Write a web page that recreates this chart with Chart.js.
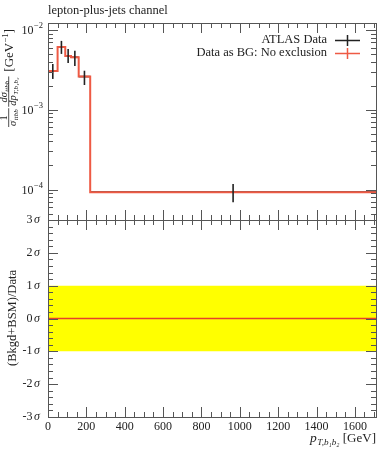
<!DOCTYPE html>
<html>
<head>
<meta charset="utf-8">
<script src="https://cdn.jsdelivr.net/npm/chart.js@4.4.0/dist/chart.umd.min.js"></script>
<style>
  body { margin: 0; background: #fff; }
  #wrap { position: relative; width: 389px; height: 450px; }
  canvas { position: absolute; left: 0; top: 0; }
</style>
</head>
<body>
<div id="wrap">
  <canvas id="mainChart" width="389" height="450"></canvas>
  <canvas id="ratioChart" width="389" height="450"></canvas>
</div>
<script>
// bins of p_T,b1b2 [GeV]
const binEdges = [0, 50, 90, 120, 160, 220, 1710];
// ATLAS data, normalised cross section [GeV^-1]
const dataValues = [3.06e-3, 6.12e-3, 4.72e-3, 4.54e-3, 2.60e-3, 9.27e-5];
const dataErrLow = [2.43e-3, 5.00e-3, 3.86e-3, 3.53e-3, 2.04e-3, 6.95e-5];
const dataErrHigh = [3.74e-3, 7.28e-3, 5.78e-3, 5.46e-3, 3.08e-3, 1.17e-4];
// "Data as BG: No exclusion" prediction
const bgValues = [3.06e-3, 6.12e-3, 4.72e-3, 4.54e-3, 2.60e-3, 9.27e-5];
// ratio panel, in sigma
const ratioValues = [0, 0, 0, 0, 0, 0];
const bandLow = [-1, -1, -1, -1, -1, -1];
const bandHigh = [1, 1, 1, 1, 1, 1];
// tick labels
const xTickValues = [0, 200, 400, 600, 800, 1000, 1200, 1400, 1600];
const logTickPowers = [-2, -3, -4];
const ratioTickValues = [3, 2, 1, 0, -1, -2, -3];

const redColor = '#ee5a44';
const frameColor = '#555';
const serif = '"Liberation Serif", "DejaVu Serif", serif';

function stepPoints(values) {
  const pts = values.map((v, i) => ({ x: binEdges[i], y: v }));
  pts.push({ x: binEdges[binEdges.length - 1], y: values[values.length - 1] });
  return pts;
}

// error bars as two-point line datasets
const vertBars = [];
const horizBars = [];
for (let i = 0; i < dataValues.length; i++) {
  const mid = (binEdges[i] + binEdges[i + 1]) / 2;
  vertBars.push({
    data: [{ x: mid, y: dataErrLow[i] }, { x: mid, y: dataErrHigh[i] }],
    borderColor: '#222', borderWidth: 1.6, pointRadius: 0, order: 0
  });
  horizBars.push({
    data: [{ x: binEdges[i], y: dataValues[i] }, { x: binEdges[i + 1], y: dataValues[i] }],
    borderColor: '#222', borderWidth: 1.6, pointRadius: 0, order: 2
  });
}

// inward ticks along x
function xTicks(ctx, scale, area, y, dir) {
  for (let v = 0; v <= scale.max; v += 50) {
    const px = Math.round(scale.getPixelForValue(v)) + 0.5;
    if (px < area.left || px > area.right) continue;
    const len = (v % 200 === 0) ? 10 : 5;
    ctx.beginPath();
    ctx.moveTo(px, y);
    ctx.lineTo(px, y + dir * len);
    ctx.stroke();
  }
}

function yTick(ctx, area, py, len) {
  py = Math.round(py) + 0.5;
  ctx.beginPath();
  ctx.moveTo(area.left, py); ctx.lineTo(area.left + len, py);
  ctx.moveTo(area.right, py); ctx.lineTo(area.right - len, py);
  ctx.stroke();
}

function frame(ctx, area) {
  ctx.strokeStyle = frameColor;
  ctx.lineWidth = 1;
  ctx.strokeRect(Math.round(area.left) + 0.5, Math.round(area.top) + 0.5,
    Math.round(area.right - area.left), Math.round(area.bottom - area.top));
}

// text with a subscript, returns width
function subText(ctx, main, sub, x, y, size, italic) {
  ctx.font = (italic ? 'italic ' : '') + size + 'px ' + serif;
  ctx.fillText(main, x, y);
  const mw = ctx.measureText(main).width;
  ctx.font = 'italic ' + (size * 0.68) + 'px ' + serif;
  ctx.fillText(sub, x + mw + 0.5, y + size * 0.22);
  return mw + 0.5 + ctx.measureText(sub).width;
}
function subWidth(ctx, main, sub, size, italic) {
  ctx.font = (italic ? 'italic ' : '') + size + 'px ' + serif;
  const mw = ctx.measureText(main).width;
  ctx.font = 'italic ' + (size * 0.68) + 'px ' + serif;
  return mw + 0.5 + ctx.measureText(sub).width;
}

const mainDecor = {
  id: 'mainDecor',
  afterDatasetsDraw(chart) {
    const ctx = chart.ctx, area = chart.chartArea;
    const xs = chart.scales.x, ys = chart.scales.y;
    ctx.save();
    frame(ctx, area);
    xTicks(ctx, xs, area, area.top, 1);
    xTicks(ctx, xs, area, area.bottom, -1);
    for (let d = -5; d <= -1; d++) {
      for (let m = 1; m <= 9; m++) {
        const v = m * Math.pow(10, d);
        if (v < ys.min || v > ys.max) continue;
        yTick(ctx, area, ys.getPixelForValue(v), m === 1 ? 10 : 5);
      }
    }
    // y tick labels 10^n
    ctx.fillStyle = '#222';
    ctx.textBaseline = 'middle';
    logTickPowers.forEach(p => {
      const py = ys.getPixelForValue(Math.pow(10, p));
      ctx.font = '8.5px ' + serif;
      const sup = '\u2212' + (-p);
      const supW = ctx.measureText(sup).width;
      ctx.textAlign = 'left';
      ctx.fillText(sup, 43 - supW, py - 4);
      ctx.font = '12px ' + serif;
      ctx.textAlign = 'right';
      ctx.fillText('10', 43 - supW - 0.5, py + 1);
    });
    // title
    ctx.textAlign = 'left';
    ctx.textBaseline = 'alphabetic';
    ctx.font = '12.5px ' + serif;
    ctx.fillText('lepton-plus-jets channel', 48, 14);
    // legend
    ctx.font = '12.5px ' + serif;
    ctx.textAlign = 'right';
    ctx.textBaseline = 'middle';
    ctx.fillText('ATLAS Data', 327, 40);
    ctx.fillText('Data as BG: No exclusion', 327, 53);
    ctx.lineWidth = 1.5;
    ctx.strokeStyle = '#222';
    ctx.beginPath();
    ctx.moveTo(335, 40.5); ctx.lineTo(360, 40.5);
    ctx.moveTo(347.5, 35); ctx.lineTo(347.5, 46);
    ctx.stroke();
    ctx.strokeStyle = redColor;
    ctx.beginPath();
    ctx.moveTo(335, 53.5); ctx.lineTo(360, 53.5);
    ctx.moveTo(347.5, 48); ctx.lineTo(347.5, 59);
    ctx.stroke();
    // y axis title, rotated
    ctx.translate(13, 127);
    ctx.rotate(-Math.PI / 2);
    ctx.textAlign = 'left';
    ctx.textBaseline = 'alphabetic';
    let x = 0;
    const fs = 10.5;
    function frac(num, numSub, numIt, den, denSub) {
      const nw = subWidth(ctx, num, numSub, fs, numIt);
      const dw = subWidth(ctx, den, denSub, fs, true);
      const w = Math.max(nw, dw) + 2;
      subText(ctx, num, numSub, x + (w - nw) / 2, -6.5, fs, numIt);
      subText(ctx, den, denSub, x + (w - dw) / 2, 3, fs, true);
      ctx.lineWidth = 0.8;
      ctx.strokeStyle = '#222';
      ctx.beginPath();
      ctx.moveTo(x, -4.3); ctx.lineTo(x + w, -4.3);
      ctx.stroke();
      x += w + 1.5;
    }
    frac('1', '', false, '\u03c3', 'ttbb');
    frac('d\u03c3', 'ttbb', true, 'dp', 'T,b\u2081b\u2082');
    ctx.font = '13px ' + serif;
    ctx.fillText(' [GeV', x, 0);
    x += ctx.measureText(' [GeV').width;
    ctx.font = '9px ' + serif;
    ctx.fillText('\u22121', x, -5.5);
    x += ctx.measureText('\u22121').width;
    ctx.font = '13px ' + serif;
    ctx.fillText(']', x, 0);
    ctx.restore();
  }
};

const ratioDecor = {
  id: 'ratioDecor',
  afterDatasetsDraw(chart) {
    const ctx = chart.ctx, area = chart.chartArea;
    const xs = chart.scales.x, ys = chart.scales.y;
    ctx.save();
    frame(ctx, area);
    xTicks(ctx, xs, area, area.top, 1);
    xTicks(ctx, xs, area, area.bottom, -1);
    for (let k = -15; k <= 15; k++) {
      yTick(ctx, area, ys.getPixelForValue(k / 5), k % 5 === 0 ? 10 : 5);
    }
    ctx.fillStyle = '#222';
    ctx.textBaseline = 'middle';
    ratioTickValues.forEach(v => {
      const py = ys.getPixelForValue(v);
      ctx.font = 'italic 12px ' + serif;
      const sw = ctx.measureText('\u03c3').width;
      ctx.textAlign = 'left';
      ctx.fillText('\u03c3', 40 - sw, py);
      ctx.font = '12px ' + serif;
      ctx.textAlign = 'right';
      ctx.fillText(String(v), 40 - sw - 1.5, py);
    });
    // x tick labels
    ctx.textAlign = 'center';
    ctx.font = '12px ' + serif;
    xTickValues.forEach(v => {
      ctx.fillText(String(v), xs.getPixelForValue(v), 427);
    });
    // x axis title
    ctx.textBaseline = 'alphabetic';
    ctx.textAlign = 'left';
    ctx.font = '13px ' + serif;
    const unit = ' [GeV]';
    const uw = ctx.measureText(unit).width;
    const tw = subWidth(ctx, 'p', 'T,b\u2081b\u2082', 13.5, true);
    const x0 = 376 - uw - tw;
    subText(ctx, 'p', 'T,b\u2081b\u2082', x0, 442, 13.5, true);
    ctx.font = '13px ' + serif;
    ctx.fillText(unit, x0 + tw, 442);
    // y axis title
    ctx.translate(16, 318);
    ctx.rotate(-Math.PI / 2);
    ctx.textAlign = 'center';
    ctx.font = '12.5px ' + serif;
    ctx.fillText('(Bkgd+BSM)/Data', 0, 0);
    ctx.restore();
  }
};

const commonX = { type: 'linear', min: 0, max: 1710, display: false };

new Chart('mainChart', {
  type: 'line',
  data: {
    datasets: [
      ...vertBars,
      {
        data: stepPoints(bgValues),
        stepped: 'before',
        borderColor: redColor,
        borderWidth: 2,
        pointRadius: 0,
        order: 1
      },
      ...horizBars
    ]
  },
  options: {
    responsive: false,
    animation: false,
    devicePixelRatio: 1,
    layout: { padding: { left: 48, right: 13, top: 23, bottom: 230 } },
    scales: {
      x: commonX,
      y: { type: 'logarithmic', min: 4.15e-5, max: 1.22e-2, display: false }
    },
    plugins: { legend: { display: false }, tooltip: { enabled: false } }
  },
  plugins: [mainDecor]
});

new Chart('ratioChart', {
  type: 'line',
  data: {
    datasets: [
      {
        data: stepPoints(ratioValues),
        stepped: 'before',
        borderColor: '#e8402a',
        borderWidth: 1.5,
        pointRadius: 0
      },
      {
        data: stepPoints(bandHigh),
        stepped: 'before',
        borderWidth: 0,
        pointRadius: 0,
        backgroundColor: '#ffff00',
        fill: '+1'
      },
      {
        data: stepPoints(bandLow),
        stepped: 'before',
        borderWidth: 0,
        pointRadius: 0
      }
    ]
  },
  options: {
    responsive: false,
    animation: false,
    devicePixelRatio: 1,
    layout: { padding: { left: 48, right: 13, top: 220, bottom: 33 } },
    scales: {
      x: commonX,
      y: { type: 'linear', min: -3, max: 3, display: false }
    },
    plugins: { legend: { display: false }, tooltip: { enabled: false } }
  },
  plugins: [ratioDecor]
});
</script>
</body>
</html>
